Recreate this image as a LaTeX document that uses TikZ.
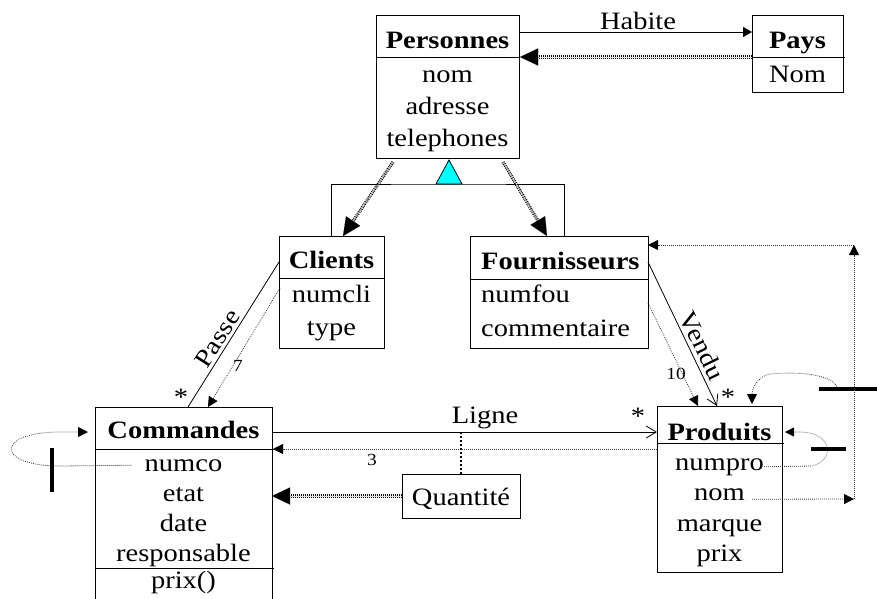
\documentclass[tikz,border=0pt]{standalone}
\usepackage{fontspec}
\setmainfont[FakeStretch=1.14]{Liberation Serif}
\usetikzlibrary{arrows.meta,calc}
\definecolor{aqua}{RGB}{0,255,255}

\begin{document}
\begin{tikzpicture}[x=1pt,y=-1pt,
  box/.style={draw, line width=0.8pt, outer sep=0pt, inner sep=0pt, anchor=north west},
  sep/.style={line width=0.8pt},
  lbl/.style={font=\fontsize{25}{28}\selectfont, inner sep=0pt, anchor=base},
  hdr/.style={font=\fontsize{25}{28}\selectfont\bfseries, inner sep=0pt, anchor=base},
  small/.style={font=\fontsize{17}{20}\selectfont, inner sep=0pt},
  assoc/.style={line width=0.8pt},
  dots/.style={line width=0.8pt, draw=black!80, dash pattern=on 0.8pt off 1.2pt},
  % dependency: double dotted line, the tip is drawn by the (hair-thin) main path
  dep/.style={line width=0.01pt, -{Triangle[length=18pt,width=17pt,color=black]},
    preaction={draw, -, line width=1.1pt, double=white, double distance=0.9pt,
      dash pattern=on 1pt off 1pt, shorten >=16pt}},
  smalltip/.style={-{Triangle[length=10pt,width=10pt,color=black]}},
  opentip/.style={-{Straight Barb[length=10pt,width=12pt]}},
  bar/.style={line width=4pt}
]
\clip (0,0) rectangle (877,598);

% ---------- Personnes ----------
\node[box, minimum width=143pt, minimum height=143pt] (pers) at (376,15) {};
\draw[sep] (376,57) -- (519,57);
\node[hdr] (persT) at (447.5,48) {Personnes};
\node[lbl] (persA) at (447.5,82) {nom};
\node[lbl] (persB) at (447.5,114) {adresse};
\node[lbl] (persC) at (447.5,146) {telephones};

% ---------- Pays ----------
\node[box, minimum width=91pt, minimum height=77pt] (pays) at (752,15) {};
\draw[sep] (752,57) -- (845,57);
\node[hdr] (paysT) at (797.5,48) {Pays};
\node[lbl] (paysA) at (797.5,82) {Nom};

% ---------- Clients ----------
\node[box, minimum width=105pt, minimum height=112pt] (cli) at (279,236) {};
\draw[sep] (279,278) -- (384,278);
\node[hdr] (cliT) at (331.5,268) {Clients};
\node[lbl] (cliA) at (331.5,302) {numcli};
\node[lbl] (cliB) at (331.5,335) {type};

% ---------- Fournisseurs ----------
\node[box, minimum width=178pt, minimum height=112pt] (four) at (470,236) {};
\draw[sep] (470,279) -- (648,279);
\node[hdr, anchor=base west] (fourT) at (481,269) {Fournisseurs};
\node[lbl, anchor=base west] (fourA) at (481,302) {numfou};
\node[lbl, anchor=base west] (fourB) at (481,336) {commentaire};

% ---------- Commandes ----------
\node[box, minimum width=177pt, minimum height=213pt] (com) at (95,407) {};
\draw[sep] (95,449) -- (274,449);
\draw[sep] (95,568) -- (274,568);
\node[hdr] (comT) at (183.5,438) {Commandes};
\node[lbl] (numco) at (183.5,471) {numco};
\node[lbl] (etat) at (183.5,501) {etat};
\node[lbl] (date) at (183.5,531) {date};
\node[lbl] (resp) at (183.5,561) {responsable};
\node[lbl] (prixm) at (183.5,588) {prix()};

% ---------- Produits ----------
\node[box, minimum width=125pt, minimum height=166pt] (prod) at (657,406) {};
\draw[sep] (657,443) -- (784,443);
\node[hdr] (prodT) at (719.5,440) {Produits};
\node[lbl] (numpro) at (719.5,470) {numpro};
\node[lbl] (nom) at (719.5,500) {nom};
\node[lbl] (marque) at (719.5,531) {marque};
\node[lbl] (prix) at (719.5,561) {prix};

% ---------- Quantite ----------
\node[box, minimum width=118pt, minimum height=44pt] (qte) at (402,474) {};
\node[lbl] (qteT) at (461,505) {Quantité};

% ---------- Habite ----------
\draw[assoc, -{Triangle[length=9pt,width=10pt]}]
  ($(pers.north east)+(1,17)$) -- ($(pays.north west)+(0,17)$);
\node[lbl] (habite) at (638,29) {Habite};
\draw[dep] ($(pays.north west)+(0,42)$) -- ($(pers.north east)+(1,42)$);

% ---------- Generalisation ----------
\coordinate (gen) at (449,184);
\draw[assoc] (cli.north) |- (gen) -| ($(four.north west)+(94,0)$);
\draw[line width=0.8pt, fill=aqua] (436,184) -- (449,160) -- (462,184) -- cycle;
\draw[dep] ($(pers.south west)+(17,4)$) -- ($(cli.north west)+(64,0)$);
\draw[dep] ($(pers.south east)+(-16,4)$) -- ($(four.north west)+(77,0)$);

% ---------- Passe ----------
\draw[assoc] ($(cli.north west)+(0,26)$) -- coordinate[pos=0.57] (passeM) ($(com.north west)+(93,0)$);
\node[lbl, anchor=south, rotate=57.5, inner sep=3pt] (passe) at (passeM) {Passe};
\node[lbl, anchor=center] (starP) at (181,397) {*};
\draw[dots, smalltip] ($(cli.north west)+(1,52)$) -- ($(com.north west)+(113,0)$);
\node[small] (seven) at (238,366) {7};

% ---------- Vendu ----------
\draw[assoc, opentip] ($(four.north east)+(0,26)$) -- coordinate[pos=0.62] (venduM) ($(prod.north west)+(60,0)$);
\node[lbl, anchor=south, rotate=-64, inner sep=4pt] (vendu) at (venduM) {Vendu};
\node[lbl, anchor=center] (starV) at (728,397) {*};
\draw[dots, smalltip] ($(four.north east)+(0,67)$) -- ($(prod.north west)+(41,0)$);
\node[small] (ten) at (676,374) {10};

% ---------- Ligne ----------
\draw[assoc, opentip] ($(com.north east)+(0,25)$) -- ($(prod.north west)+(0,26)$);
\node[lbl] (ligne) at (485,423) {Ligne};
\node[lbl, anchor=center] (starL) at (638,416) {*};
\draw[dots, smalltip] ($(prod.north west)+(0,43)$) -- ($(com.north east)+(1,42)$);
\node[small] (three) at (372,460) {3};
\draw[line width=1.8pt, dash pattern=on 2.5pt off 1.5pt] (qte.north) -- ++(0,-42);
\draw[dep] (qte.west) -- (com.east |- qte.west);

% ---------- Commandes self reference ----------
\draw[dots, smalltip] ($(numco.west)+(-13,0)$) -- (60,466)
  .. controls (-5,466) and (-5,432) .. (60,432) -- ($(com.north west)+(-7,25)$);
\draw[bar] (52,448) -- (52,492);

% ---------- Produits self references ----------
\coordinate (loopA) at (838,388);
\draw[dots, smalltip] (loopA) .. controls (830,372) and (792,372) .. (770,374)
  .. controls (758,376) and (752,388) .. ($(prod.north west)+(95,-2)$);
\draw[bar] (819,389) -- (877,389);

\draw[dots] (numpro.east) -- (812,466);
\draw[line width=0.6pt, draw=black!35, -{Triangle[length=9pt,width=9pt,color=black]}]
  (812,466) .. controls (836,460) and (832,432) .. (800,432) -- ($(prod.north east)+(3,26)$);
\draw[bar] (811,449) -- (846,449);

\coordinate (c1) at (854,499);
\coordinate (c2) at (854,245);
\draw[dots, smalltip] ($(nom.east)+(7,5)$) -- (c1);
\draw[dots, smalltip] (c1) -- (c2);
\draw[dots, smalltip] (c2) -- (four.east |- c2);
\end{tikzpicture}
\end{document}
